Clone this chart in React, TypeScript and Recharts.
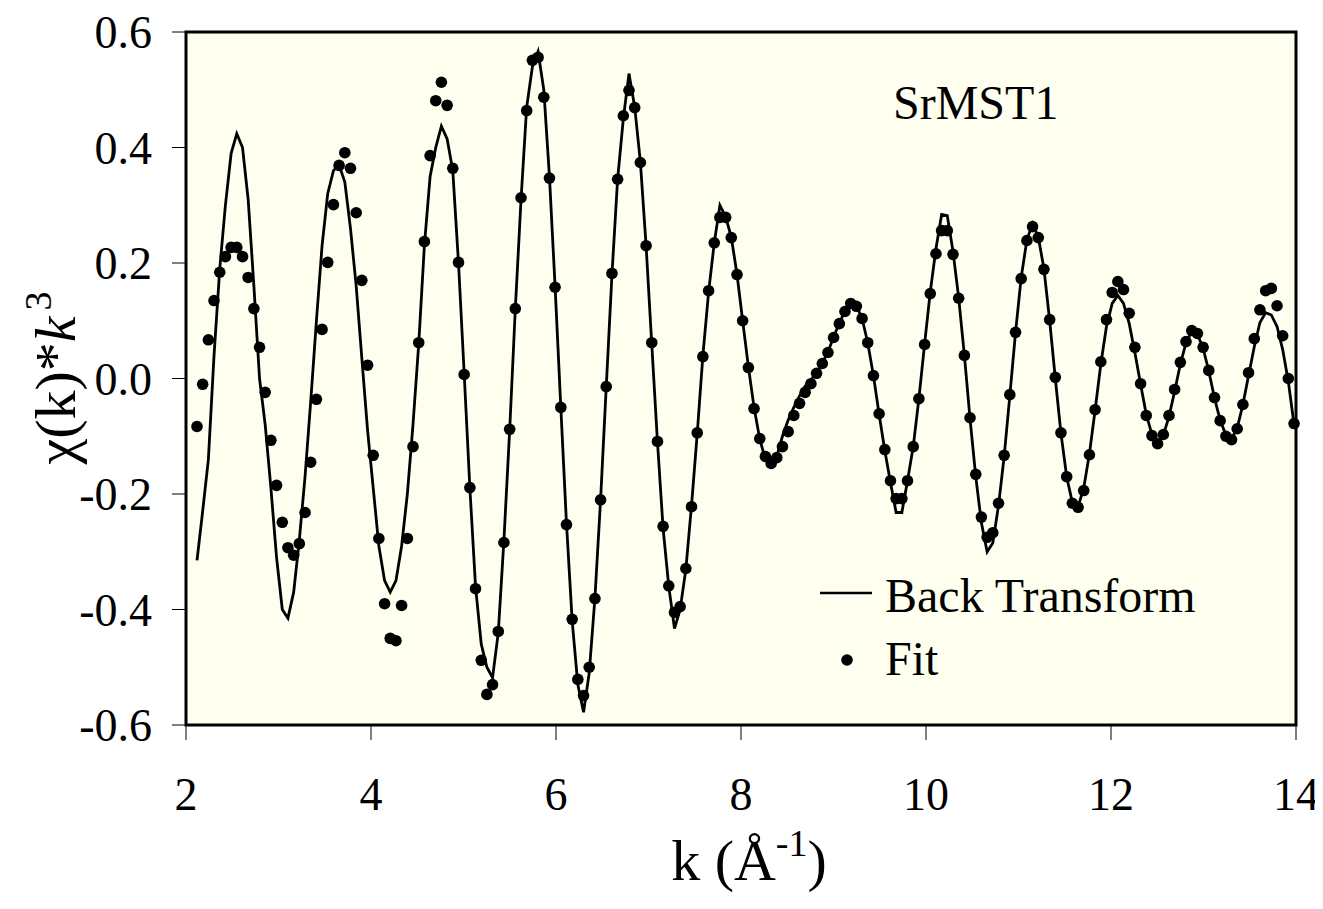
import React from "react"
import {
  ComposedChart,
  Line,
  Scatter,
  XAxis,
  YAxis,
  CartesianGrid,
  ReferenceArea,
} from "recharts"

// k grid (Å^-1), one entry per measured point
const K = [
  2.119, 2.18, 2.242, 2.303, 2.365, 2.426, 2.488, 2.549, 2.611, 2.672,
  2.734, 2.795, 2.856, 2.918, 2.979, 3.041, 3.102, 3.164, 3.225, 3.287,
  3.348, 3.41, 3.471, 3.532, 3.594, 3.655, 3.717, 3.778, 3.84, 3.901,
  3.963, 4.024, 4.085, 4.147, 4.208, 4.27, 4.331, 4.393, 4.454, 4.516,
  4.577, 4.639, 4.7, 4.761, 4.823, 4.884, 4.946, 5.007, 5.069, 5.13,
  5.192, 5.253, 5.314, 5.376, 5.437, 5.499, 5.56, 5.622, 5.683, 5.745,
  5.806, 5.868, 5.929, 5.99, 6.052, 6.113, 6.175, 6.236, 6.298, 6.359,
  6.421, 6.482, 6.543, 6.605, 6.666, 6.728, 6.789, 6.851, 6.912, 6.974,
  7.035, 7.097, 7.158, 7.219, 7.281, 7.342, 7.404, 7.465, 7.527, 7.588,
  7.65, 7.711, 7.772, 7.834, 7.895, 7.957, 8.018, 8.08, 8.141, 8.203,
  8.264, 8.326, 8.387, 8.448, 8.51, 8.571, 8.633, 8.694, 8.756, 8.817,
  8.879, 8.94, 9.001, 9.063, 9.124, 9.186, 9.247, 9.309, 9.37, 9.432,
  9.493, 9.555, 9.616, 9.677, 9.739, 9.8, 9.862, 9.923, 9.985, 10.046,
  10.108, 10.169, 10.23, 10.292, 10.353, 10.415, 10.476, 10.538, 10.599, 10.661,
  10.722, 10.784, 10.845, 10.906, 10.968, 11.029, 11.091, 11.152, 11.214, 11.275,
  11.337, 11.398, 11.459, 11.521, 11.582, 11.644, 11.705, 11.767, 11.828, 11.89,
  11.951, 12.013, 12.074, 12.135, 12.197, 12.258, 12.32, 12.381, 12.443, 12.504,
  12.566, 12.627, 12.688, 12.75, 12.811, 12.873, 12.934, 12.996, 13.057, 13.119,
  13.18, 13.242, 13.303, 13.364, 13.426, 13.487, 13.549, 13.61, 13.672, 13.733,
  13.795, 13.856, 13.917, 13.979,
]

// back transform, chi(k)*k^3
const BACK = [
  -0.315, -0.23, -0.14, 0.04, 0.19, 0.3, 0.39, 0.424, 0.4, 0.31,
  0.16, 0.0, -0.08, -0.19, -0.31, -0.4, -0.415, -0.37, -0.28, -0.17,
  -0.04, 0.1, 0.23, 0.32, 0.36, 0.37, 0.34, 0.26, 0.16, 0.035,
  -0.09, -0.19, -0.29, -0.35, -0.37, -0.35, -0.29, -0.2, -0.08, 0.06,
  0.23, 0.35, 0.4, 0.437, 0.415, 0.36, 0.2, 0.01, -0.19, -0.36,
  -0.46, -0.5, -0.518, -0.44, -0.28, -0.09, 0.12, 0.31, 0.47, 0.54,
  0.566, 0.5, 0.35, 0.16, -0.05, -0.25, -0.42, -0.53, -0.578, -0.51,
  -0.38, -0.21, -0.015, 0.18, 0.345, 0.45, 0.528, 0.47, 0.375, 0.23,
  0.06, -0.11, -0.26, -0.36, -0.433, -0.4, -0.33, -0.22, -0.095, 0.04,
  0.15, 0.235, 0.3, 0.28, 0.245, 0.18, 0.1, 0.02, -0.05, -0.105,
  -0.14, -0.15, -0.135, -0.1, -0.072, -0.05, -0.03, -0.013, -0.002, 0.01,
  0.027, 0.046, 0.072, 0.096, 0.117, 0.133, 0.126, 0.104, 0.062, 0.005,
  -0.062, -0.125, -0.18, -0.232, -0.232, -0.177, -0.118, -0.035, 0.06, 0.15,
  0.225, 0.284, 0.282, 0.22, 0.14, 0.04, -0.07, -0.17, -0.25, -0.3,
  -0.285, -0.22, -0.135, -0.03, 0.08, 0.175, 0.24, 0.268, 0.245, 0.19,
  0.1, 0.0, -0.095, -0.17, -0.215, -0.222, -0.19, -0.13, -0.055, 0.025,
  0.09, 0.13, 0.144, 0.13, 0.095, 0.045, -0.01, -0.062, -0.097, -0.112,
  -0.098, -0.066, -0.022, 0.025, 0.062, 0.082, 0.077, 0.052, 0.013, -0.034,
  -0.072, -0.098, -0.104, -0.086, -0.045, 0.005, 0.055, 0.097, 0.114, 0.11,
  0.09, 0.05, -0.005, -0.08,
]

// fit
const FIT = [
  -0.083, -0.01, 0.067, 0.135, 0.184, 0.211, 0.227, 0.227, 0.211, 0.175,
  0.121, 0.054, -0.024, -0.107, -0.185, -0.249, -0.293, -0.306, -0.286, -0.232,
  -0.145, -0.036, 0.085, 0.201, 0.301, 0.369, 0.391, 0.364, 0.287, 0.17,
  0.023, -0.133, -0.277, -0.39, -0.45, -0.454, -0.393, -0.277, -0.118, 0.062,
  0.237, 0.386, 0.481, 0.513, 0.473, 0.364, 0.201, 0.007, -0.189, -0.364,
  -0.488, -0.547, -0.53, -0.438, -0.284, -0.088, 0.121, 0.313, 0.464, 0.551,
  0.556, 0.487, 0.347, 0.158, -0.05, -0.253, -0.417, -0.521, -0.549, -0.5,
  -0.381, -0.21, -0.014, 0.182, 0.345, 0.455, 0.499, 0.469, 0.374, 0.23,
  0.062, -0.109, -0.256, -0.359, -0.405, -0.395, -0.329, -0.222, -0.094, 0.038,
  0.152, 0.235, 0.279, 0.279, 0.244, 0.18, 0.1, 0.019, -0.052, -0.104,
  -0.135, -0.147, -0.137, -0.118, -0.092, -0.064, -0.043, -0.024, -0.009, 0.009,
  0.026, 0.045, 0.071, 0.095, 0.116, 0.13, 0.125, 0.104, 0.062, 0.005,
  -0.061, -0.123, -0.177, -0.208, -0.208, -0.177, -0.118, -0.035, 0.059, 0.147,
  0.216, 0.256, 0.256, 0.215, 0.139, 0.04, -0.068, -0.166, -0.24, -0.275,
  -0.267, -0.216, -0.133, -0.028, 0.08, 0.173, 0.239, 0.263, 0.244, 0.189,
  0.102, 0.002, -0.094, -0.17, -0.216, -0.223, -0.194, -0.132, -0.054, 0.029,
  0.102, 0.149, 0.168, 0.154, 0.113, 0.054, -0.009, -0.064, -0.099, -0.113,
  -0.097, -0.064, -0.019, 0.028, 0.064, 0.083, 0.078, 0.054, 0.014, -0.033,
  -0.073, -0.1, -0.106, -0.087, -0.045, 0.01, 0.069, 0.119, 0.152, 0.156,
  0.126, 0.074, 0.0, -0.078,
]

const K_TICKS = [2, 4, 6, 8, 10, 12, 14]
const Y_TICKS = [-0.6, -0.4, -0.2, 0, 0.2, 0.4, 0.6]

const rows = K.map((k, i) => ({ k, bt: BACK[i], fit: FIT[i] }))

const FONT = "'Liberation Serif', 'Times New Roman', serif"
const tickStyle = { fontFamily: FONT, fontSize: 46, fill: "#000" }

const W = 1315
const H = 901

const Dot = (p: any) => <circle cx={p.cx} cy={p.cy} r={5.8} fill="#000" />

const App = () => (
  <div style={{ position: "relative", width: W, height: H }}>
    <ComposedChart
      width={W}
      height={H}
      data={rows}
      margin={{ top: 24, right: 27, bottom: 64, left: 28 }}
    >
      <CartesianGrid fill="#FFFFF0" horizontal={false} vertical={false} />
      <XAxis
        type="number"
        dataKey="k"
        domain={[2, 14]}
        ticks={K_TICKS}
        height={120}
        axisLine={false}
        tickLine={{ stroke: "#000", strokeWidth: 1 }}
        tickSize={15}
        tickMargin={37}
        tick={tickStyle}
        interval={0}
      />
      <YAxis
        type="number"
        domain={[-0.6, 0.6]}
        ticks={Y_TICKS}
        width={150}
        axisLine={false}
        tickLine={{ stroke: "#000", strokeWidth: 1 }}
        tickSize={14}
        tickMargin={20}
        tick={tickStyle}
        interval={0}
        tickFormatter={(v: number) => v.toFixed(1)}
      />
      <ReferenceArea
        x1={2}
        x2={14}
        y1={-0.6}
        y2={0.6}
        fill="none"
        stroke="#000"
        strokeWidth={3}
      />
      <Line
        type="linear"
        dataKey="bt"
        stroke="#000"
        strokeWidth={2.8}
        dot={false}
        isAnimationActive={false}
      />
      <Scatter dataKey="fit" fill="#000" shape={Dot} isAnimationActive={false} />
    </ComposedChart>
    <svg
      width={W}
      height={H}
      style={{ position: "absolute", left: 0, top: 0, pointerEvents: "none" }}
      fontFamily={FONT}
    >
      <text x={885} y={111} fontSize={48}>SrMST1</text>
      <line x1={812} x2={864} y1={585} y2={585} stroke="#000" strokeWidth={2.5} />
      <text x={877} y={604} fontSize={48}>Back Transform</text>
      <circle cx={839} cy={652} r={5.8} fill="#000" />
      <text x={877} y={667} fontSize={48}>Fit</text>
      <text transform="translate(67,370) rotate(-90)" textAnchor="middle" fontSize={58}>
        χ(k)*<tspan fontStyle="italic">k</tspan>
        <tspan dx={6} dy={-24} fontSize={38}>3</tspan>
      </text>
      <text x={741} y={872} textAnchor="middle" fontSize={58}>
        k (Å<tspan dy={-24} fontSize={38}>-1</tspan>
        <tspan dy={24}>)</tspan>
      </text>
    </svg>
  </div>
)

export default App
